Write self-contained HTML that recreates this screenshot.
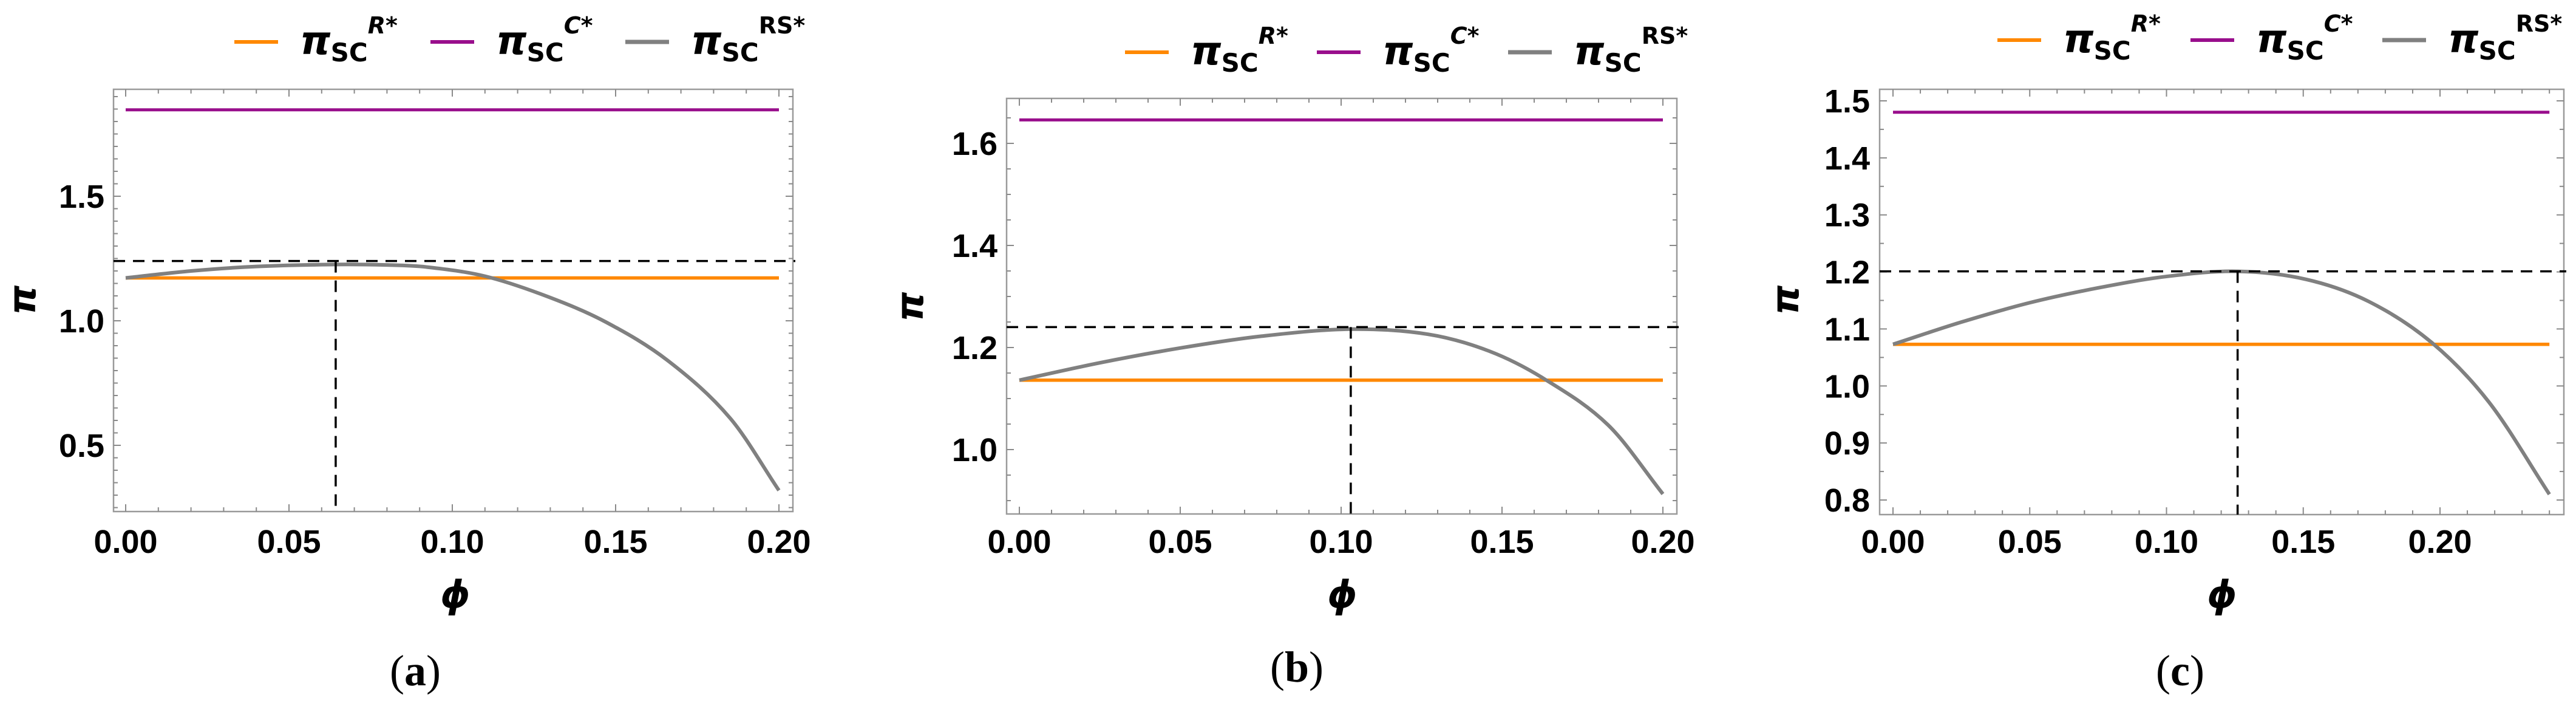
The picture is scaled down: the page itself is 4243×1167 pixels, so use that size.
<!DOCTYPE html>
<html><head><meta charset="utf-8"><style>
html,body{margin:0;padding:0;background:#fff;}
svg{display:block;}
.tk{font-family:"Liberation Sans",sans-serif;font-weight:bold;font-size:54px;fill:#000;}
.lg{font-family:"DejaVu Sans","Liberation Sans",sans-serif;font-weight:bold;fill:#000;}
.cap{font-family:"Liberation Serif",serif;font-size:72px;fill:#000;}
</style></head><body>
<svg id="fig" width="4243" height="1167" viewBox="0 0 4243 1167" xmlns="http://www.w3.org/2000/svg"></svg>
<script>
// ---- data ----
const aPhi = [0,0.02,0.04,0.064,0.08,0.092,0.11,0.129,0.147,0.166,0.185,0.2];
const aRS  = [1.172,1.20,1.218,1.226,1.224,1.216,1.179,1.098,0.995,0.84,0.61,0.319];
const aR = 1.172, aC = 1.847, aPeakPhi = 0.0643, aPeakVal = 1.24;
const aXTicks = ["0.00","0.05","0.10","0.15","0.20"];
const aYTicks = ["0.5","1.0","1.5"];

const bPhi = [0,0.025,0.05,0.075,0.103,0.127,0.146,0.163,0.183,0.2];
const bRS  = [1.136,1.17,1.199,1.222,1.236,1.226,1.193,1.139,1.048,0.913];
const bR = 1.136, bC = 1.646, bPeakPhi = 0.103, bPeakVal = 1.24;
const bXTicks = ["0.00","0.05","0.10","0.15","0.20"];
const bYTicks = ["1.0","1.2","1.4","1.6"];

const cPhi = [0,0.025,0.05,0.075,0.1,0.126,0.151,0.174,0.197,0.218,0.24];
const cRS  = [1.073,1.112,1.146,1.172,1.192,1.201,1.187,1.148,1.076,0.971,0.81];
const cR = 1.073, cC = 1.48, cPeakPhi = 0.126, cPeakVal = 1.201;
const cXTicks = ["0.00","0.05","0.10","0.15","0.20"];
const cYTicks = ["0.8","0.9","1.0","1.1","1.2","1.3","1.4","1.5"];

const NS = "http://www.w3.org/2000/svg";
const svg = document.getElementById('fig');
function mk(tag, attrs, parent){
  const e = document.createElementNS(NS, tag);
  for (const k in attrs) e.setAttribute(k, attrs[k]);
  (parent||svg).appendChild(e);
  return e;
}
function smoothPath(pts){
  const n = pts.length, m = [];
  for (let i=0;i<n;i++){
    const a = pts[Math.max(0,i-1)], b = pts[Math.min(n-1,i+1)];
    m.push((b[1]-a[1])/(b[0]-a[0]));
  }
  let d = "M"+pts[0][0]+","+pts[0][1];
  for (let i=0;i<n-1;i++){
    const p1=pts[i], p2=pts[i+1], h=(p2[0]-p1[0])/3;
    d += " C"+(p1[0]+h)+","+(p1[1]+m[i]*h)+" "+(p2[0]-h)+","+(p2[1]-m[i+1]*h)+" "+p2[0]+","+p2[1];
  }
  return d;
}

function panel(cfg){
  const g = mk('g', {});
  
  
  const X = v => cfg.x0 + (v - 0) * (cfg.x1 - cfg.x0) / cfg.xMax;
  const Y = v => cfg.yA + (v - cfg.vA) * (cfg.yB - cfg.yA) / (cfg.vB - cfg.vA);
  const L=cfg.fl, R=cfg.fr, T=cfg.ft, B=cfg.fb;
  const fr = mk('rect', {x:L,y:T,width:R-L,height:B-T,fill:'none',stroke:'#9a9a9a','stroke-width':2.5}, g);
  
  
  const nx = Math.round(cfg.xEnd/0.01);
  for (let i=0;i<=nx;i++){
    const v=i*0.01, x=X(v); if (x<L||x>R) continue;
    const major = i%5===0, len = major?12:7;
    mk('line',{x1:x,y1:B,x2:x,y2:B-len,stroke:'#8a8a8a','stroke-width':2},g);
    mk('line',{x1:x,y1:T,x2:x,y2:T+len,stroke:'#8a8a8a','stroke-width':2},g);
  }
  cfg.xTicks.forEach((s)=>{
    const t = mk('text',{x:X(parseFloat(s)),y:cfg.xLabY,'text-anchor':'middle',class:'tk'},g);
    t.textContent = s;
    
    
  });
  for (let v=cfg.yMinorStart; v<=cfg.yTop+1e-9; v+=cfg.yMinor){
    const y=Y(v); if (y<T||y>B) continue;
    const major = Math.abs(Math.round(v/cfg.yMajor)*cfg.yMajor - v) < 1e-6;
    const len = major?12:7;
    mk('line',{x1:L,y1:y,x2:L+len,y2:y,stroke:'#8a8a8a','stroke-width':2},g);
    mk('line',{x1:R,y1:y,x2:R-len,y2:y,stroke:'#8a8a8a','stroke-width':2},g);
  }
  cfg.yTicks.forEach((s)=>{
    const t = mk('text',{x:cfg.yLabX,y:Y(parseFloat(s))+19,'text-anchor':'end',class:'tk'},g);
    t.textContent = s;
    
    
  });
  const pc = mk('line',{x1:X(0),y1:Y(cfg.C),x2:X(cfg.xEnd),y2:Y(cfg.C),stroke:'#990e8c','stroke-width':5},g);
  
  
  const pr = mk('line',{x1:X(0),y1:Y(cfg.R),x2:X(cfg.xEnd),y2:Y(cfg.R),stroke:'#ff8800','stroke-width':5.5},g);
  
  
  const pts = cfg.phi.map((p,i)=>[X(p),Y(cfg.rs[i])]);
  const rs = mk('path',{d:smoothPath(pts),fill:'none',stroke:'#808080','stroke-width':6,'stroke-linecap':'butt'},g);
  
  
  const dh = mk('line',{x1:L,y1:Y(cfg.peakVal),x2:R+4,y2:Y(cfg.peakVal),stroke:'#000','stroke-width':3.5,'stroke-dasharray':'19,13'},g);
  
  
  const dv = mk('line',{x1:X(cfg.peakPhi),y1:Y(cfg.peakVal),x2:X(cfg.peakPhi),y2:B,stroke:'#000','stroke-width':3.5,'stroke-dasharray':'19,13'},g);
  
  
  const xt = mk('text',{x:cfg.phiX,y:cfg.phiY,'text-anchor':'middle',class:'lg','font-style':'italic','font-size':62},g);
  xt.textContent='ϕ';
  
  
  const yt = mk('text',{x:0,y:0,'text-anchor':'middle',class:'lg','font-style':'italic','font-size':62,transform:'translate('+cfg.piX+','+cfg.piY+') rotate(-90)'},g);
  yt.textContent='π';
  
  
  const items=[['#ff8800','R*'],['#990e8c','C*'],['#808080','RS*']];
  items.forEach((it,i)=>{
    const lx = cfg.leg[i];
    const ln = mk('line',{x1:lx,y1:cfg.legY,x2:lx+72,y2:cfg.legY,stroke:it[0],'stroke-width':i===2?7:6},g);
    
    
    const t = mk('text',{x:lx+108,y:cfg.legY+20,class:'lg','font-size':64},g);
    
    
    const a = mk('tspan',{'font-style':'italic'},t); a.textContent='π';
    const b = mk('tspan',{'font-size':42,dy:12,'font-weight':'bold'},t); b.textContent='SC';
    const c = mk('tspan',{'font-size':38,dy:-46,'font-style':i===2?'normal':'italic'},t); c.textContent=it[1];
  });
  const cp = mk('text',{x:cfg.capX,y:cfg.capY,'text-anchor':'middle',class:'cap'},g);
  
  
  const c1=mk('tspan',{},cp); c1.textContent='(';
  const c2=mk('tspan',{'font-weight':'bold'},cp); c2.textContent=cfg.id;
  const c3=mk('tspan',{},cp); c3.textContent=')';
}

panel({id:'a', phi:aPhi, rs:aRS, R:aR, C:aC, peakPhi:aPeakPhi, peakVal:aPeakVal, xTicks:aXTicks, yTicks:aYTicks,
  x0:207, x1:1283, xMax:0.2, xEnd:0.2, yA:528, vA:1.0, yB:733, vB:0.5,
  fl:187, fr:1306, ft:147, fb:842, yMinor:0.05, yMajor:0.5, yMinorStart:0.25, yTop:1.95,
  yLabX:172, xLabY:910, phiX:750, phiY:1000, piX:58, piY:494,
  leg:[386,709,1030], legY:69, capX:684, capY:1128});
panel({id:'b', phi:bPhi, rs:bRS, R:bR, C:bC, peakPhi:bPeakPhi, peakVal:bPeakVal, xTicks:bXTicks, yTicks:bYTicks,
  x0:1679, x1:2739, xMax:0.2, xEnd:0.2, yA:740, vA:1.0, yB:236, vB:1.6,
  fl:1658, fr:2762, ft:162, fb:846, yMinor:0.05, yMajor:0.2, yMinorStart:0.9, yTop:1.7,
  yLabX:1643, xLabY:910, phiX:2211, phiY:1000, piX:1520, piY:505,
  leg:[1853,2169,2484], legY:86, capX:2136, capY:1122});
panel({id:'c', phi:cPhi, rs:cRS, R:cR, C:cC, peakPhi:cPeakPhi, peakVal:cPeakVal, xTicks:cXTicks, yTicks:cYTicks,
  x0:3118, x1:4019, xMax:0.2, xEnd:0.24, yA:823, vA:0.8, yB:166, vB:1.5,
  fl:3096, fr:4223, ft:147, fb:847, yMinor:0.05, yMajor:0.1, yMinorStart:0.8, yTop:1.52,
  yLabX:3080, xLabY:910, phiX:3660, phiY:1000, piX:2962, piY:494,
  leg:[3290,3608,3924], legY:66, capX:3591, capY:1128});
</script>
</body></html>
